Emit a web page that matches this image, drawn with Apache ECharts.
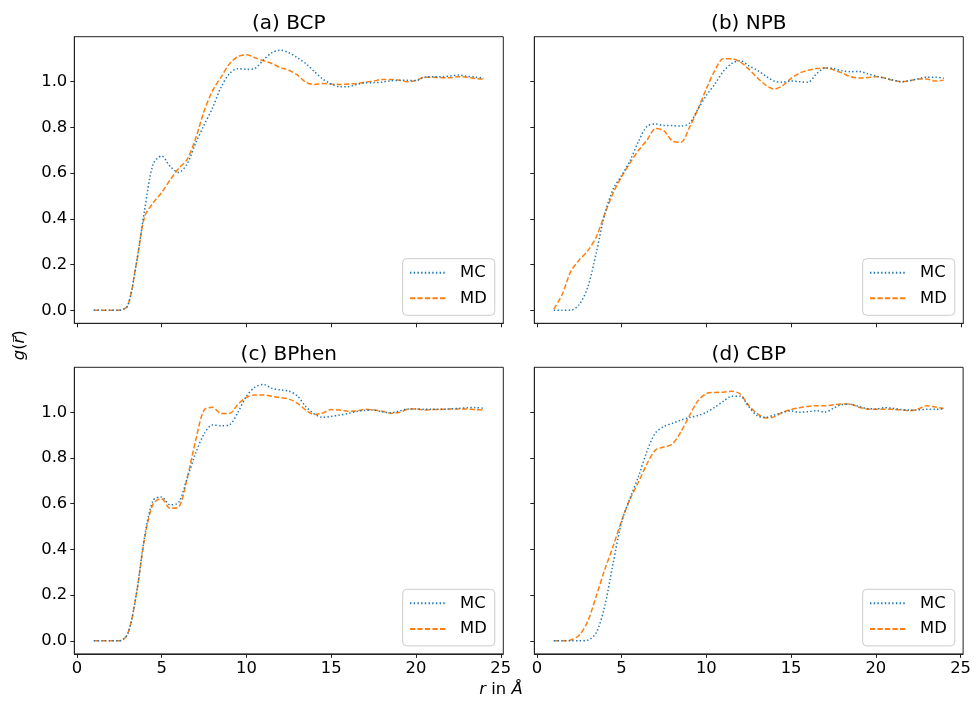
<!DOCTYPE html>
<html>
<head>
<meta charset="utf-8">
<title>g(r) BCP NPB BPhen CBP</title>
<script src="https://cdn.jsdelivr.net/npm/echarts@6/dist/echarts.min.js"></script>
<style>
  html, body { margin: 0; padding: 0; background: #fff; }
  #chart { width: 974px; height: 704px; }
</style>
</head>
<body>
<div id="chart"></div>
<script>
// Radial distance grid (Å)
const r = [1, 1.5, 2, 2.5, 3, 3.5, 4, 4.5, 5, 5.5, 6, 6.5, 7, 7.5, 8, 8.5, 9, 9.5, 10, 10.5,
  11, 11.5, 12, 12.5, 13, 13.5, 14, 14.5, 15, 15.5, 16, 16.5, 17, 17.5, 18, 18.5, 19, 19.5,
  20, 20.5, 21, 21.5, 22, 22.5, 23, 23.5, 24];

// (a) BCP
const bcpMC = [0, 0, 0, 0, 0.02, 0.2, 0.44, 0.64, 0.675, 0.63, 0.603, 0.64, 0.73, 0.81, 0.885, 0.975,
  1.035, 1.057, 1.054, 1.058, 1.095, 1.127, 1.138, 1.127, 1.105, 1.08, 1.045, 1.012, 0.99, 0.978,
  0.978, 0.988, 0.995, 0.996, 0.998, 1.004, 1.006, 1.006, 1.005, 1.02, 1.022, 1.022, 1.025, 1.029,
  1.024, 1.02, 1.016];
const bcpMD = [0, 0, 0, 0, 0.02, 0.2, 0.41, 0.47, 0.515, 0.57, 0.62, 0.66, 0.75, 0.87, 0.96, 1.02,
  1.078, 1.11, 1.118, 1.105, 1.092, 1.08, 1.062, 1.05, 1.03, 0.998, 0.988, 0.992, 0.99, 0.988,
  0.99, 0.992, 0.998, 1.003, 1.01, 1.01, 1.007, 1.0, 1.005, 1.02, 1.02, 1.017, 1.017, 1.022,
  1.02, 1.014, 1.012];

// (b) NPB
const npbMC = [0, 0, 0, 0.025, 0.1, 0.25, 0.42, 0.53, 0.59, 0.655, 0.74, 0.805, 0.815, 0.808, 0.808,
  0.806, 0.818, 0.88, 0.94, 0.99, 1.045, 1.08, 1.092, 1.07, 1.05, 1.025, 1.003, 0.998, 1.003, 1.0,
  0.998, 1.035, 1.06, 1.058, 1.048, 1.044, 1.045, 1.035, 1.025, 1.016, 1.008, 1.0, 1.005, 1.013,
  1.02, 1.02, 1.015];
const npbMD = [0.005, 0.07, 0.17, 0.22, 0.26, 0.32, 0.42, 0.513, 0.585, 0.645, 0.7, 0.745, 0.795,
  0.785, 0.74, 0.735, 0.8, 0.88, 0.97, 1.05, 1.1, 1.1, 1.086, 1.055, 1.018, 0.985, 0.968, 0.983,
  1.015, 1.038, 1.05, 1.058, 1.06, 1.052, 1.038, 1.022, 1.016, 1.018, 1.022, 1.016, 1.006, 1.0,
  1.005, 1.012, 1.012, 1.003, 1.007];

// (c) BPhen
const bphenMC = [0, 0, 0, 0, 0.03, 0.2, 0.458, 0.615, 0.63, 0.595, 0.605, 0.71, 0.82, 0.905, 0.945,
  0.941, 0.945, 1.0, 1.07, 1.11, 1.122, 1.105, 1.098, 1.093, 1.072, 1.025, 0.993, 0.978, 0.982,
  0.988, 0.995, 1.004, 1.008, 1.01, 1.002, 0.998, 1.005, 1.015, 1.015, 1.013, 1.013, 1.013, 1.015,
  1.017, 1.02, 1.021, 1.017];
const bphenMD = [0, 0, 0, 0, 0.03, 0.2, 0.45, 0.6, 0.622, 0.58, 0.585, 0.71, 0.875, 1.01, 1.022,
  0.995, 0.995, 1.035, 1.065, 1.076, 1.076, 1.07, 1.064, 1.058, 1.04, 1.01, 0.99, 0.997, 1.012,
  1.01, 1.005, 1.006, 1.013, 1.01, 1.005, 0.996, 0.999, 1.013, 1.015, 1.01, 1.012, 1.013, 1.014,
  1.015, 1.014, 1.012, 1.01];

// (d) CBP
const cbpMC = [0, 0, 0, 0, 0.003, 0.035, 0.15, 0.34, 0.52, 0.625, 0.72, 0.83, 0.91, 0.938, 0.952,
  0.966, 0.977, 0.986, 1.0, 1.022, 1.048, 1.07, 1.07, 1.025, 0.985, 0.978, 0.988, 1.0, 1.006, 1.0,
  1.003, 1.007, 1.001, 1.018, 1.034, 1.035, 1.026, 1.016, 1.015, 1.02, 1.018, 1.012, 1.01, 1.011,
  1.013, 1.013, 1.015];
const cbpMD = [0, 0, 0.004, 0.025, 0.085, 0.195, 0.31, 0.414, 0.525, 0.62, 0.695, 0.775, 0.835,
  0.848, 0.862, 0.915, 0.985, 1.05, 1.082, 1.087, 1.088, 1.092, 1.08, 1.03, 0.995, 0.975, 0.98,
  1.0, 1.012, 1.02, 1.026, 1.029, 1.029, 1.033, 1.036, 1.036, 1.022, 1.015, 1.013, 1.013, 1.013,
  1.011, 1.007, 1.015, 1.029, 1.023, 1.017];

const panelTitles = ['(a) BCP', '(b) NPB', '(c) BPhen', '(d) CBP'];
const panelData = [[bcpMC, bcpMD], [npbMC, npbMD], [bphenMC, bphenMD], [cbpMC, cbpMD]];
const xTicks = [0, 5, 10, 15, 20, 25];
const yTicks = [0, 0.2, 0.4, 0.6, 0.8, 1.0];

const FONT = 'DejaVu Sans';
const BLUE = '#1f77b4';
const ORANGE = '#ff7f0e';

// panel boxes: [left, top]
const PW = 429, PH = 286.6;
const boxes = [[74.3, 36.7], [534.3, 36.7], [74.3, 367.3], [534.3, 367.3]];

const grids = [], xAxes = [], yAxes = [], series = [], legends = [], graphics = [];

boxes.forEach(([L, T], i) => {
  const isBottom = i >= 2, isLeft = i % 2 === 0;
  grids.push({
    left: L, top: T, width: PW, height: PH,
    show: true, borderColor: '#222', borderWidth: 1, backgroundColor: 'transparent'
  });
  xAxes.push({
    type: 'value', gridIndex: i, min: -0.15, max: 25.15,
    axisLine: { show: true, onZero: false, lineStyle: { color: '#222', width: 1 } },
    axisTick: { show: true, length: 4, customValues: xTicks, lineStyle: { color: '#222', width: 1 } },
    axisLabel: {
      show: isBottom, customValues: xTicks, margin: 7,
      color: '#000', fontSize: 16.4, fontFamily: FONT
    },
    splitLine: { show: false }
  });
  yAxes.push({
    type: 'value', gridIndex: i, min: -0.057, max: 1.197,
    axisLine: { show: true, onZero: false, lineStyle: { color: '#222', width: 1 } },
    axisTick: { show: true, length: 4, customValues: yTicks, lineStyle: { color: '#222', width: 1 } },
    axisLabel: {
      show: isLeft, customValues: yTicks, margin: 7,
      color: '#000', fontSize: 16.4, fontFamily: FONT,
      formatter: v => v.toFixed(1)
    },
    splitLine: { show: false }
  });
  const [mc, md] = panelData[i];
  series.push({
    name: 'MC', type: 'line', xAxisIndex: i, yAxisIndex: i,
    data: r.map((x, k) => [x, mc[k]]),
    symbol: 'none', showSymbol: false, smooth: 0.3, z: 3,
    lineStyle: { color: BLUE, width: 1.5, type: [1.4, 2.3] },
    itemStyle: { color: BLUE }
  });
  series.push({
    name: 'MD', type: 'line', xAxisIndex: i, yAxisIndex: i,
    data: r.map((x, k) => [x, md[k]]),
    symbol: 'none', showSymbol: false, smooth: 0.3, z: 2,
    lineStyle: { color: ORANGE, width: 1.5, type: [5.2, 2.3] },
    itemStyle: { color: ORANGE }
  });
  legends.push({
    data: ['MC', 'MD'], orient: 'vertical',
    left: L + 328.4, top: T + 222,
    padding: [5, 8, 8, 6.3],
    itemWidth: 36, itemHeight: 12, itemGap: 7.6,
    itemStyle: { opacity: 0, borderWidth: 0 },
    backgroundColor: 'rgba(255,255,255,0.8)',
    borderColor: '#cccccc', borderWidth: 1, borderRadius: 4,
    textStyle: { fontFamily: FONT, fontSize: 16.4, color: '#000', lineHeight: 18, padding: [0, 0, 0, 9] },
    selectedMode: false
  });
  graphics.push({
    type: 'text', x: L + PW / 2, y: T - 12.5,
    style: {
      text: panelTitles[i], fontFamily: FONT, fontSize: 20, fill: '#000',
      textAlign: 'center', textVerticalAlign: 'middle'
    }
  });
});

// shared axis titles
graphics.push({
  type: 'text', x: 501, y: 690,
  style: {
    text: '{i|r} in {i|Å}', fontFamily: FONT, fontSize: 16.4, fill: '#000',
    textAlign: 'center', textVerticalAlign: 'middle',
    rich: { i: { fontFamily: FONT, fontSize: 16.4, fontStyle: 'italic', fill: '#000' } }
  }
});
graphics.push({
  type: 'text', x: 20, y: 345.3, rotation: Math.PI / 2,
  style: {
    text: '{i|g}({i|r\u20D7})', fontFamily: FONT, fontSize: 16.4, fill: '#000',
    textAlign: 'center', textVerticalAlign: 'middle',
    rich: { i: { fontFamily: FONT, fontSize: 16.4, fontStyle: 'italic', fill: '#000' } }
  }
});

const chart = echarts.init(document.getElementById('chart'), null, { renderer: 'canvas' });
chart.setOption({
  animation: false,
  backgroundColor: '#ffffff',
  textStyle: { fontFamily: FONT },
  grid: grids, xAxis: xAxes, yAxis: yAxes,
  series: series, legend: legends, graphic: graphics
});
</script>
</body>
</html>
